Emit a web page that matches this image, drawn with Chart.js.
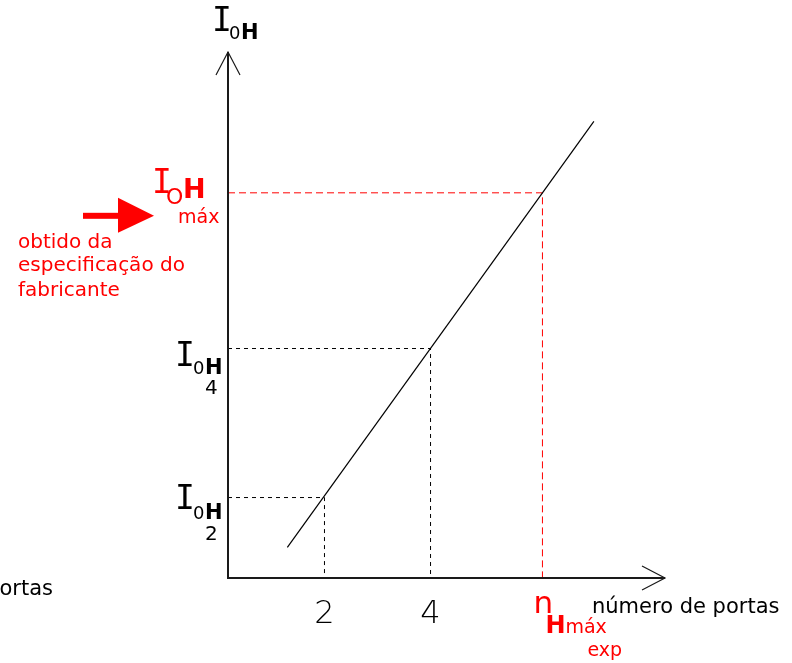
<!DOCTYPE html>
<html>
<head>
<meta charset="utf-8">
<script src="https://cdn.jsdelivr.net/npm/chart.js@4/dist/chart.umd.min.js"></script>
<style>
  html, body { margin: 0; padding: 0; background: #fff; }
  #wrap { width: 792px; height: 663px; }
</style>
</head>
<body>
<div id="wrap"><canvas id="chart" width="792" height="663"></canvas></div>
<script>
// values (x = número de portas, y = I0H, arbitrary units)
const xTicks = [2, 4];
const lineX = [1.3, 7.08];
const lineY = [1.33, 7.05];
const guideX = [2, 4, 6.11];     // 2, 4 and n_Hmáx exp
const guideY = [2, 4, 6.09];     // I0H2, I0H4, IOHmáx
const guideSub = ["2", "4", "máx"];
const xMin = 0.181, xMax = 8.421;
const yMin = 0.92, yMax = 7.98;

const RED = "#ff0000";
const F_I = "33px 'DejaVu Sans Mono'";
const F_SUB = "18px 'DejaVu Sans'";
const F_H = "bold 21px 'DejaVu Sans'";
const F_TXT = "20px 'DejaVu Sans'";
const F_SMALL = "19px 'DejaVu Sans'";
const F_TICK = "200 32px 'DejaVu Sans'";

const pts = (xs, ys) => xs.map((x, i) => ({ x: x, y: ys[i] }));

const datasets = [{
  data: pts(lineX, lineY),
  borderColor: "#000",
  borderWidth: 1.2
}];
guideX.forEach((gx, i) => {
  const red = i === guideX.length - 1;
  datasets.push({
    data: [{ x: xMin, y: guideY[i] }, { x: gx, y: guideY[i] }, { x: gx, y: yMin }],
    borderColor: red ? RED : "#000",
    borderWidth: 1,
    borderDash: red ? [7, 4] : [4, 4]
  });
});

function txt(ctx, s, x, y, font, color, align) {
  ctx.font = font;
  ctx.fillStyle = color || "#000";
  ctx.textAlign = align || "left";
  ctx.textBaseline = "alphabetic";
  ctx.fillText(s, x, y);
}

const drawing = {
  id: "drawing",
  afterDraw(chart) {
    const ctx = chart.ctx;
    const a = chart.chartArea;
    const xs = chart.scales.x, ys = chart.scales.y;
    const L = a.left, T = a.top, R = a.right, B = a.bottom;
    ctx.save();

    // axes
    ctx.strokeStyle = "#1a1a1a";
    ctx.lineWidth = 2;
    ctx.beginPath();
    ctx.moveTo(L, T);
    ctx.lineTo(L, B);
    ctx.lineTo(R, B);
    ctx.stroke();
    ctx.lineWidth = 1.2;
    ctx.beginPath();
    ctx.moveTo(L - 12, T + 23); ctx.lineTo(L, T); ctx.lineTo(L + 12, T + 23);
    ctx.moveTo(R - 23, B - 12); ctx.lineTo(R, B); ctx.lineTo(R - 23, B + 12);
    ctx.stroke();

    // y axis title
    txt(ctx, "I", L - 16, T - 21, F_I);
    txt(ctx, "0", L + 1, T - 13, F_SUB);
    txt(ctx, "H", L + 13, T - 13, F_H);

    // x ticks
    xTicks.forEach(v => txt(ctx, String(v), xs.getPixelForValue(v), B + 45, F_TICK, "#000", "center"));

    // I0H2 and I0H4
    const off = [[11, 21, 42], [17, 25, 45]];
    [0, 1].forEach(i => {
      const yp = ys.getPixelForValue(guideY[i]);
      txt(ctx, "I", 175, yp + off[i][0], F_I);
      txt(ctx, "0", 193, yp + off[i][1], F_SUB);
      txt(ctx, "H", 205, yp + off[i][1], F_H);
      txt(ctx, guideSub[i], 205, yp + off[i][2], "20px 'DejaVu Sans'");
    });

    // IOHmáx with arrow and note
    const ym = ys.getPixelForValue(guideY[2]);
    txt(ctx, "I", 152, ym, F_I, RED);
    txt(ctx, "O", 166, ym + 11, "22px 'DejaVu Sans'", RED);
    txt(ctx, "H", 183, ym + 5, "bold 27px 'DejaVu Sans'", RED);
    txt(ctx, guideSub[2], 178, ym + 30, F_SMALL, RED);
    ctx.fillStyle = RED;
    ctx.fillRect(83, ym + 20, 36, 6);
    ctx.beginPath();
    ctx.moveTo(118, ym + 5);
    ctx.lineTo(154, ym + 23);
    ctx.lineTo(118, ym + 40);
    ctx.closePath();
    ctx.fill();
    txt(ctx, "obtido da", 18, ym + 55, F_TXT, RED);
    txt(ctx, "especificação do", 18, ym + 78, F_TXT, RED);
    txt(ctx, "fabricante", 18, ym + 103, F_TXT, RED);

    // n_Hmáx exp
    const xn = xs.getPixelForValue(guideX[2]);
    txt(ctx, "n", xn - 9, B + 35, "31px 'DejaVu Sans'", RED);
    txt(ctx, "H", xn + 3, B + 55, "bold 24px 'DejaVu Sans'", RED);
    txt(ctx, "máx", xn + 23, B + 55, F_SMALL, RED);
    txt(ctx, "exp", xn + 45, B + 78, F_SMALL, RED);

    // x axis title (and its cut-off copy at the left edge)
    txt(ctx, "número de portas", R - 73, B + 35, "21px 'DejaVu Sans'");
    txt(ctx, "número de portas", 53, B + 17, "21px 'DejaVu Sans'", "#000", "right");

    ctx.restore();
  }
};

new Chart(document.getElementById("chart"), {
  type: "line",
  data: { datasets: datasets },
  options: {
    responsive: false,
    animation: false,
    layout: { padding: { left: 228, right: 127, top: 52, bottom: 85 } },
    elements: { point: { radius: 0 }, line: { tension: 0 } },
    plugins: { legend: { display: false }, tooltip: { enabled: false } },
    scales: {
      x: { type: "linear", min: xMin, max: xMax, display: false },
      y: { type: "linear", min: yMin, max: yMax, display: false }
    }
  },
  plugins: [drawing]
});
</script>
</body>
</html>
